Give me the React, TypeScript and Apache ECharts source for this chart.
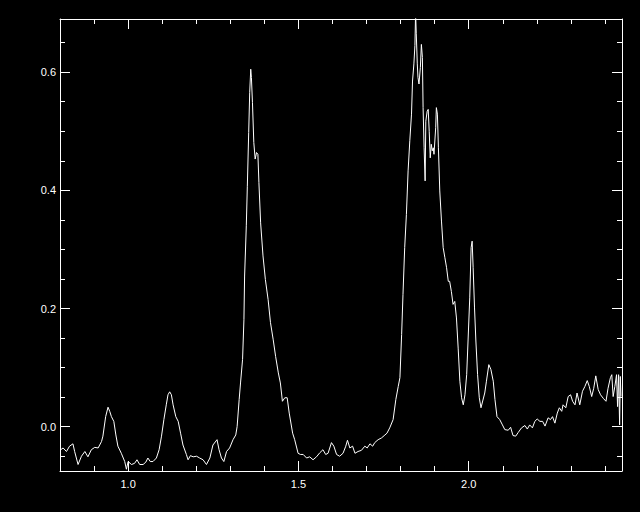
import React, { useEffect, useRef } from "react";
import * as echarts from "echarts";

// Wavelength (x) and flux (y)
const wavelength = [
  0.800, 0.809, 0.819, 0.828, 0.838, 0.843, 0.853, 0.863, 0.873, 0.882,
  0.892, 0.902, 0.912, 0.922, 0.926, 0.934, 0.941, 0.946, 0.951, 0.958,
  0.964, 0.970, 0.980, 0.990, 0.995, 1.000, 1.010, 1.019, 1.026, 1.034,
  1.044, 1.052, 1.058, 1.065, 1.073, 1.083, 1.091, 1.098, 1.105, 1.112,
  1.117, 1.122, 1.127, 1.132, 1.140, 1.147, 1.154, 1.161, 1.171, 1.176,
  1.183, 1.191, 1.201,
  1.210, 1.220, 1.230, 1.240, 1.249, 1.261, 1.267, 1.274, 1.281, 1.289,
  1.298, 1.308, 1.316, 1.320, 1.326, 1.330, 1.336, 1.340, 1.342, 1.347,
  1.350, 1.354, 1.357, 1.360, 1.362, 1.365, 1.369, 1.373, 1.377, 1.381,
  1.384, 1.389, 1.396, 1.403, 1.411, 1.418, 1.426, 1.433, 1.441, 1.447,
  1.453, 1.460, 1.467, 1.473,
  1.483, 1.489, 1.499, 1.506, 1.514, 1.524, 1.533, 1.543, 1.553, 1.563,
  1.572, 1.580, 1.587, 1.597, 1.604, 1.612, 1.621, 1.631, 1.639, 1.644,
  1.651, 1.659, 1.666, 1.675, 1.685, 1.695, 1.702, 1.710, 1.718, 1.724,
  1.734, 1.744, 1.754, 1.760, 1.768, 1.778, 1.786, 1.793,
  1.798, 1.803, 1.807, 1.812, 1.817, 1.822, 1.827, 1.832, 1.835, 1.839,
  1.842, 1.844, 1.846, 1.849, 1.851, 1.854, 1.858, 1.861, 1.864, 1.866,
  1.869, 1.872, 1.874, 1.878, 1.881, 1.884, 1.887, 1.890, 1.893, 1.896,
  1.898, 1.903, 1.905, 1.908, 1.911, 1.915, 1.920, 1.925, 1.930, 1.935,
  1.940, 1.944, 1.949, 1.954, 1.959, 1.964, 1.969, 1.974, 1.979, 1.984,
  1.989, 1.994, 1.998, 2.003, 2.007, 2.010, 2.013, 2.017, 2.021, 2.026,
  2.031, 2.036,
  2.047, 2.052, 2.059, 2.065, 2.072, 2.077, 2.083, 2.091, 2.099, 2.106,
  2.116, 2.123, 2.130, 2.138, 2.145, 2.155, 2.165, 2.172, 2.179, 2.187,
  2.194, 2.201, 2.209, 2.217, 2.224, 2.233, 2.240, 2.246, 2.253, 2.260,
  2.266, 2.273, 2.277, 2.285, 2.292, 2.299, 2.305, 2.312, 2.318, 2.326,
  2.334, 2.341, 2.348, 2.354, 2.361, 2.367, 2.373, 2.380, 2.387, 2.395,
  2.403, 2.409, 2.416, 2.420, 2.424, 2.429, 2.434, 2.437, 2.440, 2.443,
  2.445, 2.447,
];

const flux = [
  -0.040, -0.036, -0.042, -0.033, -0.029, -0.042, -0.064, -0.050, -0.042, -0.051,
  -0.039, -0.035, -0.036, -0.025, -0.016, 0.017, 0.033, 0.026, 0.017, 0.009,
  -0.014, -0.033, -0.045, -0.059, -0.072, -0.059, -0.064, -0.062, -0.056, -0.064,
  -0.064, -0.060, -0.053, -0.059, -0.059, -0.053, -0.039, -0.016, 0.012, 0.037,
  0.054, 0.059, 0.054, 0.037, 0.017, 0.009, -0.011, -0.031, -0.047, -0.056,
  -0.049, -0.051, -0.050,
  -0.053, -0.056, -0.064, -0.053, -0.031, -0.022, -0.039, -0.053, -0.059, -0.042,
  -0.036, -0.022, -0.014, 0.000, 0.046, 0.074, 0.114, 0.181, 0.255, 0.340,
  0.407, 0.498, 0.566, 0.605, 0.591, 0.549, 0.481, 0.453, 0.464, 0.461,
  0.413, 0.345, 0.289, 0.249, 0.215, 0.176, 0.147, 0.119, 0.091, 0.074,
  0.043, 0.049, 0.049, 0.023,
  -0.011, -0.022, -0.045, -0.047, -0.047, -0.053, -0.051, -0.056, -0.051, -0.044,
  -0.039, -0.047, -0.045, -0.027, -0.033, -0.047, -0.050, -0.045, -0.033, -0.023,
  -0.036, -0.033, -0.045, -0.042, -0.040, -0.033, -0.036, -0.029, -0.033, -0.027,
  -0.022, -0.019, -0.014, -0.011, -0.002, 0.012, 0.046, 0.068,
  0.083, 0.156, 0.224, 0.303, 0.359, 0.433, 0.484, 0.529, 0.585, 0.614,
  0.645, 0.700, 0.665, 0.614, 0.591, 0.580, 0.608, 0.647, 0.625, 0.540,
  0.472, 0.416, 0.517, 0.534, 0.537, 0.500, 0.455, 0.478, 0.467, 0.472,
  0.461, 0.506, 0.540, 0.529, 0.472, 0.399, 0.348, 0.303, 0.286, 0.269,
  0.246, 0.246, 0.229, 0.207, 0.212, 0.184, 0.133, 0.077, 0.049, 0.037,
  0.054, 0.088, 0.145, 0.218, 0.303, 0.314, 0.269, 0.201, 0.145, 0.088,
  0.049, 0.032,
  0.057, 0.077, 0.105, 0.097, 0.077, 0.046, 0.017, 0.012, 0.003, -0.005,
  -0.006, -0.001, -0.015, -0.016, -0.010, -0.002, 0.002, -0.004, 0.003, -0.002,
  0.009, 0.013, 0.009, 0.009, 0.001, 0.015, 0.012, 0.017, 0.006, 0.023,
  0.032, 0.026, 0.037, 0.032, 0.051, 0.054, 0.043, 0.037, 0.057, 0.037,
  0.060, 0.068, 0.078, 0.068, 0.051, 0.065, 0.086, 0.063, 0.054, 0.048,
  0.043, 0.065, 0.083, 0.088, 0.051, 0.068, 0.088, 0.034, 0.088, 0.003,
  0.085, 0.051,
];

const xRange = [0.8, 2.45];
const yRange = [-0.075, 0.69];
const xLabelStep = 0.5;
const yLabelStep = 0.2;

const isMultiple = (v: number, step: number) =>
  Math.abs(v / step - Math.round(v / step)) < 1e-6;

export default function App() {
  const ref = useRef<HTMLDivElement>(null);

  useEffect(() => {
    if (!ref.current) return;
    const chart = echarts.init(ref.current, null, { renderer: "svg" });
    const n = Math.min(wavelength.length, flux.length);
    const data: [number, number][] = [];
    for (let i = 0; i < n; i++) data.push([wavelength[i], flux[i]]);

    const line = { color: "#ffffff", width: 1 };
    const labelFont = {
      color: "#ffffff",
      fontSize: 11,
      fontFamily: "Liberation Sans, Arial, sans-serif",
    };

    const xAxisBase = (position: "bottom" | "top", showLabel: boolean) => ({
      type: "value",
      position,
      min: xRange[0],
      max: xRange[1],
      splitNumber: 3,
      axisLine: { show: true, onZero: false, lineStyle: line },
      axisTick: { show: true, inside: true, length: 10, lineStyle: line },
      minorTick: { show: true, splitNumber: 5, length: 5, lineStyle: line },
      splitLine: { show: false },
      minorSplitLine: { show: false },
      axisLabel: {
        show: showLabel,
        ...labelFont,
        margin: 7,
        formatter: (v: number) => (isMultiple(v, xLabelStep) ? v.toFixed(1) : ""),
      },
    });

    const yAxisBase = (position: "left" | "right", showLabel: boolean) => ({
      type: "value",
      position,
      min: yRange[0],
      max: yRange[1],
      splitNumber: 4,
      axisLine: { show: true, onZero: false, lineStyle: line },
      axisTick: { show: true, inside: true, length: 10, lineStyle: line },
      minorTick: { show: true, splitNumber: 4, length: 5, lineStyle: line },
      splitLine: { show: false },
      minorSplitLine: { show: false },
      axisLabel: {
        show: showLabel,
        ...labelFont,
        margin: 4,
        formatter: (v: number) => (isMultiple(v, yLabelStep) ? v.toFixed(1) : ""),
      },
    });

    chart.setOption({
      animation: false,
      backgroundColor: "#000000",
      grid: {
        left: 60,
        right: 18,
        top: 19,
        bottom: 41,
        containLabel: false,
        outerBoundsMode: "none",
      },
      xAxis: [xAxisBase("bottom", true), xAxisBase("top", false)],
      yAxis: [yAxisBase("left", true), yAxisBase("right", false)],
      series: [
        {
          type: "line",
          xAxisIndex: 0,
          yAxisIndex: 0,
          data,
          showSymbol: false,
          symbol: "none",
          clip: true,
          lineStyle: line,
          itemStyle: { color: "#ffffff" },
        },
      ],
    });

    return () => chart.dispose();
  }, []);

  return (
    <div
      ref={ref}
      style={{
        position: "fixed",
        left: 0,
        top: 0,
        width: 640,
        height: 512,
        background: "#000000",
      }}
    />
  );
}
